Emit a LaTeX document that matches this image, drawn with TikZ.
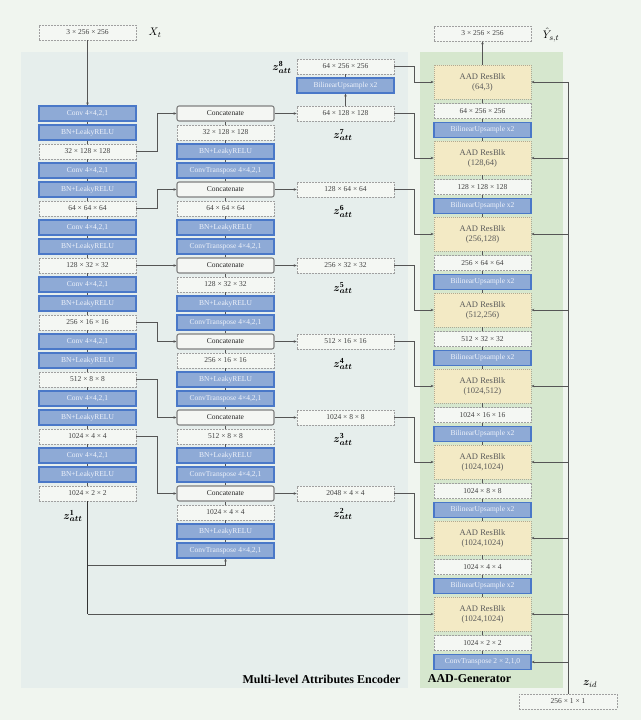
\documentclass[tikz,border=0pt]{standalone}
\usepackage{amsmath}
\usepackage{bm}
\usepackage{fontspec}
\setmainfont{Liberation Serif}
\usetikzlibrary{arrows.meta}
\definecolor{bgc}{HTML}{F0F5EF}
\definecolor{encc}{HTML}{E6EEEC}
\definecolor{genc}{HTML}{D6E7CE}
\definecolor{blueF}{HTML}{8EAAD6}
\definecolor{blueD}{HTML}{4A78C8}
\definecolor{blueT}{HTML}{EEF2FA}
\definecolor{dashF}{HTML}{F4F7F3}
\definecolor{dashD}{HTML}{A0A0A0}
\definecolor{catF}{HTML}{F4F6F3}
\definecolor{catD}{HTML}{808080}
\definecolor{aadF}{HTML}{F3EAC5}
\definecolor{aadD}{HTML}{B0AA92}
\definecolor{aadT}{HTML}{5A5A5A}
\definecolor{lnc}{HTML}{555555}
\begin{document}
\begin{tikzpicture}[x=1pt,y=-1pt,
  bx/.style={minimum width=97pt,minimum height=15pt,inner sep=0pt,font=\fontsize{7.5}{8}\selectfont},
  blk/.style={bx,fill=blueF,draw=blueD,line width=1.1pt,text=blueT},
  dsh/.style={bx,fill=dashF,draw=dashD,line width=0.6pt,dash pattern=on 2pt off 1pt,text=black!75},
  cat/.style={bx,fill=catF,draw=catD,line width=1.1pt,rounded corners=2pt,text=black!85},
  aad/.style={minimum width=97pt,minimum height=34pt,inner sep=0pt,fill=aadF,draw=aadD,line width=0.6pt,dash pattern=on 1pt off 1pt,text=aadT,align=center,font=\fontsize{8.5}{10}\selectfont},
  ln/.style={draw=lnc,line width=0.6pt},
  ar/.style={ln,-{Stealth[length=3pt,width=2.5pt]}},
  zl/.style={font=\fontsize{11}{12}\selectfont},
  ttl/.style={font=\fontsize{12}{14}\selectfont\bfseries}]
\fill[bgc] (0,0) rectangle (641,720);
\useasboundingbox (0,0) rectangle (641,720);
\fill[encc] (21,52) rectangle (408,688);
\fill[genc] (420,52) rectangle (563,688);
\node[ttl] (tenc) at (321.5,679) {Multi-level Attributes Encoder};
\node[ttl] (tgen) at (469.5,679) {AAD-Generator};
% left column
\node[dsh] (in) at (87.5,32.5) {3 × 256 × 256};
\node[zl] (xt) at (155,33) {$X_t$};
\node[blk] (L1) at (87.5,113.5) {Conv 4×4,2,1};
\node[blk] (L2) at (87.5,132.5) {BN+LeakyRELU};
\node[dsh] (L3) at (87.5,151.5) {32 × 128 × 128};
\node[blk] (L4) at (87.5,170.5) {Conv 4×4,2,1};
\node[blk] (L5) at (87.5,189.5) {BN+LeakyRELU};
\node[dsh] (L6) at (87.5,208.5) {64 × 64 × 64};
\node[blk] (L7) at (87.5,227.5) {Conv 4×4,2,1};
\node[blk] (L8) at (87.5,246.5) {BN+LeakyRELU};
\node[dsh] (L9) at (87.5,265.5) {128 × 32 × 32};
\node[blk] (L10) at (87.5,284.5) {Conv 4×4,2,1};
\node[blk] (L11) at (87.5,303.5) {BN+LeakyRELU};
\node[dsh] (L12) at (87.5,322.5) {256 × 16 × 16};
\node[blk] (L13) at (87.5,341.5) {Conv 4×4,2,1};
\node[blk] (L14) at (87.5,360.5) {BN+LeakyRELU};
\node[dsh] (L15) at (87.5,379.5) {512 × 8 × 8};
\node[blk] (L16) at (87.5,398.5) {Conv 4×4,2,1};
\node[blk] (L17) at (87.5,417.5) {BN+LeakyRELU};
\node[dsh] (L18) at (87.5,436.5) {1024 × 4 × 4};
\node[blk] (L19) at (87.5,455.5) {Conv 4×4,2,1};
\node[blk] (L20) at (87.5,474.5) {BN+LeakyRELU};
\node[dsh] (L21) at (87.5,493.5) {1024 × 2 × 2};
\node[zl] (z1) at (73,516) {$\bm{z}^{\mathbf{1}}_{\bm{att}}$};
% middle column
\node[cat] (M1) at (225.5,113.5) {Concatenate};
\node[dsh] (M2) at (225.5,132.5) {32 × 128 × 128};
\node[blk] (M3) at (225.5,151.5) {BN+LeakyRELU};
\node[blk] (M4) at (225.5,170.5) {ConvTranspose 4×4,2,1};
\node[cat] (M5) at (225.5,189.5) {Concatenate};
\node[dsh] (M6) at (225.5,208.5) {64 × 64 × 64};
\node[blk] (M7) at (225.5,227.5) {BN+LeakyRELU};
\node[blk] (M8) at (225.5,246.5) {ConvTranspose 4×4,2,1};
\node[cat] (M9) at (225.5,265.5) {Concatenate};
\node[dsh] (M10) at (225.5,284.5) {128 × 32 × 32};
\node[blk] (M11) at (225.5,303.5) {BN+LeakyRELU};
\node[blk] (M12) at (225.5,322.5) {ConvTranspose 4×4,2,1};
\node[cat] (M13) at (225.5,341.5) {Concatenate};
\node[dsh] (M14) at (225.5,360.5) {256 × 16 × 16};
\node[blk] (M15) at (225.5,379.5) {BN+LeakyRELU};
\node[blk] (M16) at (225.5,398.5) {ConvTranspose 4×4,2,1};
\node[cat] (M17) at (225.5,417.5) {Concatenate};
\node[dsh] (M18) at (225.5,436.5) {512 × 8 × 8};
\node[blk] (M19) at (225.5,455.5) {BN+LeakyRELU};
\node[blk] (M20) at (225.5,474.5) {ConvTranspose 4×4,2,1};
\node[cat] (M21) at (225.5,493.5) {Concatenate};
\node[dsh] (M22) at (225.5,512.5) {1024 × 4 × 4};
\node[blk] (M23) at (225.5,531.5) {BN+LeakyRELU};
\node[blk] (M24) at (225.5,550.5) {ConvTranspose 4×4,2,1};
% z column
\node[dsh] (Z8) at (345.5,66.5) {64 × 256 × 256};
\node[blk] (ZB) at (345.5,85.5) {BilinearUpsample x2};
\node[dsh] (Z7) at (345.5,113.5) {64 × 128 × 128};
\node[dsh] (Z6) at (345.5,189.5) {128 × 64 × 64};
\node[dsh] (Z5) at (345.5,265.5) {256 × 32 × 32};
\node[dsh] (Z4) at (345.5,341.5) {512 × 16 × 16};
\node[dsh] (Z3) at (345.5,417.5) {1024 × 8 × 8};
\node[dsh] (Z2) at (345.5,493.5) {2048 × 4 × 4};
\node[zl] (z8) at (282,67) {$\bm{z}^{\mathbf{8}}_{\bm{att}}$};
\node[zl] (z7) at (343,135) {$\bm{z}^{\mathbf{7}}_{\bm{att}}$};
\node[zl] (z6) at (343,211) {$\bm{z}^{\mathbf{6}}_{\bm{att}}$};
\node[zl] (z5) at (343,288) {$\bm{z}^{\mathbf{5}}_{\bm{att}}$};
\node[zl] (z4) at (343,364) {$\bm{z}^{\mathbf{4}}_{\bm{att}}$};
\node[zl] (z3) at (343,439) {$\bm{z}^{\mathbf{3}}_{\bm{att}}$};
\node[zl] (z2) at (343,514) {$\bm{z}^{\mathbf{2}}_{\bm{att}}$};
% generator
\node[dsh] (out) at (482.5,33.5) {3 × 256 × 256};
\node[zl] (yh) at (551,35) {$\hat{Y}_{s,t}$};
\node[aad] (A1) at (482.5,82) {AAD ResBlk\\(64,3)};
\node[dsh] (D1) at (482.5,111) {64 × 256 × 256};
\node[blk] (U1) at (482.5,130) {BilinearUpsample x2};
\node[aad] (A2) at (482.5,158) {AAD ResBlk\\(128,64)};
\node[dsh] (D2) at (482.5,187) {128 × 128 × 128};
\node[blk] (U2) at (482.5,206) {BilinearUpsample x2};
\node[aad] (A3) at (482.5,234) {AAD ResBlk\\(256,128)};
\node[dsh] (D3) at (482.5,263) {256 × 64 × 64};
\node[blk] (U3) at (482.5,282) {BilinearUpsample x2};
\node[aad] (A4) at (482.5,310) {AAD ResBlk\\(512,256)};
\node[dsh] (D4) at (482.5,339) {512 × 32 × 32};
\node[blk] (U4) at (482.5,358) {BilinearUpsample x2};
\node[aad] (A5) at (482.5,386) {AAD ResBlk\\(1024,512)};
\node[dsh] (D5) at (482.5,415) {1024 × 16 × 16};
\node[blk] (U5) at (482.5,434) {BilinearUpsample x2};
\node[aad] (A6) at (482.5,462) {AAD ResBlk\\(1024,1024)};
\node[dsh] (D6) at (482.5,491) {1024 × 8 × 8};
\node[blk] (U6) at (482.5,510) {BilinearUpsample x2};
\node[aad] (A7) at (482.5,538) {AAD ResBlk\\(1024,1024)};
\node[dsh] (D7) at (482.5,567) {1024 × 4 × 4};
\node[blk] (U7) at (482.5,586) {BilinearUpsample x2};
\node[aad] (A8) at (482.5,614) {AAD ResBlk\\(1024,1024)};
\node[dsh] (D8) at (482.5,643) {1024 × 2 × 2};
\node[blk] (CT) at (482.5,662) {ConvTranspose 2 × 2,1,0};
\node[dsh,minimum width=98pt] (zid) at (568,701.5) {256 × 1 × 1};
\node[zl] (zidl) at (590,684) {$\bm{z}_{id}$};
% connectors left column
\draw[ar] (in) -- (L1);
\foreach \a/\b in {L1/L2,L2/L3,L3/L4,L4/L5,L5/L6,L6/L7,L7/L8,L8/L9,L9/L10,L10/L11,L11/L12,L12/L13,L13/L14,L14/L15,L15/L16,L16/L17,L17/L18,L18/L19,L19/L20,L20/L21}
  \draw[ln] (\a.south) -- (\b.north);
\coordinate (c1) at (87.5,614);
\coordinate (c2) at (87.5,565);
\draw[ln,line width=0.8pt,draw=black!80] (L21.south) -- (c1);
\draw[ar] (c1) -- (A8.west);
\draw[ar] (c2) -| (M24.south);
% middle column (upward)
\foreach \a/\b in {M24/M23,M23/M22,M22/M21,M21/M20,M20/M19,M19/M18,M18/M17,M17/M16,M16/M15,M15/M14,M14/M13,M13/M12,M12/M11,M11/M10,M10/M9,M9/M8,M8/M7,M7/M6,M6/M5,M5/M4,M4/M3,M3/M2,M2/M1}
  \draw[ln] (\a.north) -- (\b.south);
% skips
\foreach \a/\b in {L3/M1,L6/M5,L9/M9,L12/M13,L15/M17,L18/M21}
  \draw[ar] (\a.east) -- ++(21,0) |- (\b.west);
% concat to z
\foreach \a/\b in {M1/Z7,M5/Z6,M9/Z5,M13/Z4,M17/Z3,M21/Z2}
  \draw[ar] (\a.east) -- (\b.west);
\draw[ar] (Z7.north) -- (ZB.south);
\draw[ln] (ZB.north) -- (Z8.south);
% z to AAD
\foreach \a/\b in {Z8/A1,Z7/A2,Z6/A3,Z5/A4,Z4/A5,Z3/A6,Z2/A7}
  \draw[ar] (\a.east) -- ++(20,0) |- (\b.west);
% generator column
\foreach \a/\b in {CT/D8,D8/A8,A8/U7,U7/D7,D7/A7,A7/U6,U6/D6,D6/A6,A6/U5,U5/D5,D5/A5,A5/U4,U4/D4,D4/A4,A4/U3,U3/D3,D3/A3,A3/U2,U2/D2,D2/A2,A2/U1,U1/D1,D1/A1}
  \draw[ln] (\a.north) -- (\b.south);
\draw[ar] (A1.north) -- (out.south);
% z_id
\draw[ln] (zid.north) -- (A1.east -| zid.north);
\foreach \a in {A1,A2,A3,A4,A5,A6,A7,A8,CT}
  \draw[ar] (\a.east -| zid.north) -- (\a.east);
\end{tikzpicture}
\end{document}
